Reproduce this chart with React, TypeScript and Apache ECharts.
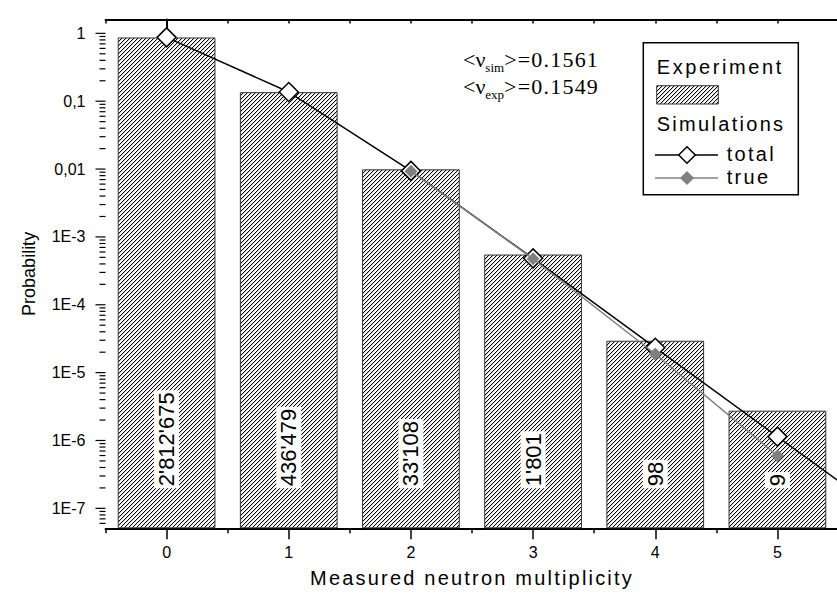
import React, { useEffect, useRef } from 'react';
import * as echarts from 'echarts';

// ---- data ----
const categories = ['0', '1', '2', '3', '4', '5'];
const eventCounts = [2812675, 436479, 33108, 1801, 98, 9];
const experimentProb = [0.87, 0.136, 0.0099, 5.5e-4, 2.95e-5, 2.75e-6];
const simTotalX = [0, 1, 2, 3, 4, 5, 6];
const simTotalProb = [0.873, 0.1365, 0.0094, 4.83e-4, 2.33e-5, 1.14e-6, 5.6e-8];
const simTrueX = [2, 3, 4, 5];
const simTrueProb = [0.0093, 4.75e-4, 1.88e-5, 5.96e-7];
const yTickLabels = ['1', '0,1', '0,01', '1E-3', '1E-4', '1E-5', '1E-6', '1E-7'];
const nuSim = '0.1561';
const nuExp = '0.1549';

const Y_MIN = 5.08e-8;
const Y_MAX = 1.6;
const SANS = '"Liberation Sans", Arial, sans-serif';
const SERIF = '"Liberation Serif", "Times New Roman", serif';

function fmtCount(n: number) {
  return String(n).replace(/\B(?=(\d{3})+(?!\d))/g, "'");
}

function textWidth(t: string, size: number, family: string) {
  const c = document.createElement('canvas').getContext('2d')!;
  c.font = `${size}px ${family}`;
  return c.measureText(t).width;
}

// "////" hatch tile
function makeHatch() {
  const c = document.createElement('canvas');
  c.width = 4;
  c.height = 4;
  const g = c.getContext('2d')!;
  g.fillStyle = '#fff';
  g.fillRect(0, 0, 4, 4);
  for (let i = 0; i < 4; i++) {
    g.fillStyle = '#000';
    g.fillRect(i, 3 - i, 1, 1);
    g.fillStyle = '#d0d0d0';
    g.fillRect((i + 1) % 4, 3 - i, 1, 1);
  }
  return c;
}

export default function App() {
  const ref = useRef<HTMLDivElement>(null);
  useEffect(() => {
    const chart = echarts.init(ref.current!, undefined, { renderer: 'svg' });
    const hatchTile = makeHatch();
    const hatchFill = { image: hatchTile, repeat: 'repeat' };

    // log-axis tick marks (decade majors + 2..9 minors)
    const yTicks: number[][] = [];
    for (let k = -8; k <= 0; k++) {
      for (let m = 1; m <= 9; m++) {
        const v = m * Math.pow(10, k);
        if (v >= Y_MIN && v <= Y_MAX) yTicks.push([-0.5, v, m === 1 ? 10 : 6]);
      }
    }

    // legend geometry
    const LX = 643.3, LY = 42.7, LW = 155, LH = 152;
    const sw = { x: 656.7, y: 85.7, w: 61.6, h: 18.3 };
    const legendFont = { fontSize: 20, fontFamily: SANS, fill: '#000' };
    const diamond = (cx: number, cy: number, r: number) => [[cx - r, cy], [cx, cy - r], [cx + r, cy], [cx, cy + r]];

    // annotation pieces
    const mainSize = 22, subSize = 13;
    const a1 = '<\u03BD';
    const w1 = textWidth(a1, mainSize, SERIF);
    const wSim = textWidth('sim', subSize, SERIF);
    const wExp = textWidth('exp', subSize, SERIF);
    const AX = 463;
    const annot = (y: number, sub: string, subW: number, val: string) => [
      { type: 'text', x: AX, y, style: { text: a1, fontSize: mainSize, fontFamily: SERIF, fill: '#000', verticalAlign: 'middle' } },
      { type: 'text', x: AX + w1, y: y + 8, style: { text: sub, fontSize: subSize, fontFamily: SERIF, fill: '#000', verticalAlign: 'middle' } },
      { type: 'text', x: AX + w1 + subW, y, style: { text: '>=' + val, fontSize: mainSize, fontFamily: SERIF, fill: '#000', verticalAlign: 'middle' } },
    ];

    const option: any = {
      animation: false,
      backgroundColor: '#fff',
      grid: { left: 105.5, right: -1.5, top: 19.5, bottom: 69.7, containLabel: false, outerBoundsMode: 'none' },
      xAxis: [
        {
          type: 'category',
          data: categories,
          position: 'bottom',
          boundaryGap: true,
          axisLine: { show: true, lineStyle: { color: '#000', width: 1.8 } },
          axisTick: { show: true, alignWithLabel: true, length: 11, lineStyle: { color: '#000', width: 1.5 }, interval: 0 },
          axisLabel: { show: true, fontSize: 16, fontFamily: SANS, color: '#000', margin: 16, interval: 0 },
          name: 'Measured neutron multiplicity',
          nameLocation: 'middle',
          nameGap: 40,
          nameTextStyle: { fontSize: 20, fontFamily: SANS, color: '#000' },
          splitLine: { show: false },
        },
        {
          type: 'category',
          data: categories,
          position: 'bottom',
          boundaryGap: true,
          axisLine: { show: false },
          axisTick: { show: true, alignWithLabel: false, length: 5, lineStyle: { color: '#000', width: 1.5 }, interval: 0 },
          axisLabel: { show: false, interval: 0 },
          splitLine: { show: false },
        },
        {
          type: 'value',
          position: 'top',
          min: -0.5,
          max: 5.5,
          interval: 0.5,
          axisLine: { show: true, lineStyle: { color: '#000', width: 1.8 } },
          axisTick: { show: true, inside: true, length: 4, lineStyle: { color: '#000', width: 1.5 } },
          axisLabel: { show: false },
          splitLine: { show: false },
        },
      ],
      yAxis: [
        {
          type: 'log',
          min: Y_MIN,
          max: Y_MAX,
          startValue: Y_MIN,
          axisLine: { show: true, lineStyle: { color: '#000', width: 2 } },
          axisTick: { show: false },
          splitLine: { show: false },
          minorTick: { show: false },
          axisLabel: {
            fontSize: 16,
            fontFamily: SANS,
            color: '#000',
            margin: 20,
            formatter: (v: number) => {
              const l = Math.log10(v);
              const e = Math.round(l);
              if (Math.abs(l - e) > 1e-6 || e > 0 || -e >= yTickLabels.length) return '';
              return yTickLabels[-e];
            },
          },
          name: 'Probability',
          nameLocation: 'middle',
          nameGap: 68,
          nameTextStyle: { fontSize: 18, fontFamily: SANS, color: '#000' },
        },
      ],
      series: [
        {
          type: 'bar',
          name: 'Experiment',
          xAxisIndex: 0,
          yAxisIndex: 0,
          data: experimentProb,
          barWidth: '80%',
          itemStyle: {
            color: hatchFill,
            borderColor: '#333',
            borderWidth: 1,
          },
          label: {
            show: true,
            position: 'insideBottom',
            distance: 40,
            rotate: 90,
            align: 'left',
            verticalAlign: 'middle',
            fontSize: 22,
            fontFamily: SANS,
            color: '#000',
            backgroundColor: '#fff',
            padding: [2, 2, 1, 2],
            formatter: (p: any) => fmtCount(eventCounts[p.dataIndex]),
          },
          silent: true,
          z: 1,
        },
        {
          type: 'custom',
          xAxisIndex: 2,
          yAxisIndex: 0,
          data: yTicks,
          encode: { x: 0, y: 1 },
          silent: true,
          clip: false,
          renderItem: (params: any, api: any) => {
            const p = api.coord([api.value(0), api.value(1)]);
            const len = api.value(2);
            return {
              type: 'line',
              shape: { x1: p[0] - len, y1: p[1], x2: p[0], y2: p[1] },
              style: { stroke: '#000', lineWidth: 1.2 },
            };
          },
          z: 5,
        },
        {
          type: 'line',
          name: 'total',
          xAxisIndex: 2,
          yAxisIndex: 0,
          data: simTotalX.map((x, i) => [x, simTotalProb[i]]),
          symbol: 'diamond',
          symbolSize: 19,
          showSymbol: true,
          clip: true,
          lineStyle: { color: '#000', width: 1.5 },
          itemStyle: { color: '#fff', borderColor: '#000', borderWidth: 1.5 },
          silent: true,
          z: 3,
        },
        {
          type: 'line',
          name: 'true',
          xAxisIndex: 2,
          yAxisIndex: 0,
          data: simTrueX.map((x, i) => [x, simTrueProb[i]]),
          symbol: 'diamond',
          symbolSize: 13,
          showSymbol: true,
          clip: true,
          lineStyle: { color: '#808080', width: 1.5 },
          itemStyle: { color: '#808080', borderWidth: 0 },
          silent: true,
          z: 4,
        },
      ],
      graphic: [
        ...annot(59, 'sim', wSim, nuSim),
        ...annot(86, 'exp', wExp, nuExp),
        { type: 'rect', shape: { x: LX, y: LY, width: LW, height: LH }, style: { fill: '#fff', stroke: '#000', lineWidth: 1.5 }, z: 10 },
        { type: 'text', x: 656.7, y: 66.5, style: { text: 'Experiment', ...legendFont, verticalAlign: 'middle' }, z: 11 },
        { type: 'rect', shape: { x: sw.x, y: sw.y, width: sw.w, height: sw.h }, style: { fill: hatchFill, stroke: '#333', lineWidth: 1 }, z: 11 },
        { type: 'text', x: 656.7, y: 123.5, style: { text: 'Simulations', ...legendFont, verticalAlign: 'middle' }, z: 11 },
        { type: 'line', shape: { x1: 655, y1: 155, x2: 718, y2: 155 }, style: { stroke: '#000', lineWidth: 1.5 }, z: 11 },
        { type: 'polygon', shape: { points: diamond(687, 155, 8.3) }, style: { fill: '#fff', stroke: '#000', lineWidth: 1.5 }, z: 12 },
        { type: 'text', x: 726.7, y: 153.5, style: { text: 'total', ...legendFont, verticalAlign: 'middle' }, z: 11 },
        { type: 'line', shape: { x1: 655, y1: 178, x2: 718, y2: 178 }, style: { stroke: '#808080', lineWidth: 1.5 }, z: 11 },
        { type: 'polygon', shape: { points: diamond(687, 178, 7) }, style: { fill: '#808080' }, z: 12 },
        { type: 'text', x: 726.7, y: 177, style: { text: 'true', ...legendFont, verticalAlign: 'middle' }, z: 11 },
      ],
    };
    chart.setOption(option);

    // Origin-style wide tracking on legend, axis title and annotation values
    const spaced: Record<string, string> = {
      Experiment: '2.6',
      Simulations: '2.3',
      total: '2.3',
      true: '2.3',
      'Measured neutron multiplicity': '2.2',
      ['>=' + nuSim]: '1.2',
      ['>=' + nuExp]: '1.2',
    };
    const applySpacing = () => {
      ref.current?.querySelectorAll('text').forEach((el) => {
        const t = (el.textContent || '').trim();
        if (spaced[t]) el.setAttribute('letter-spacing', spaced[t]);
      });
    };
    applySpacing();
    chart.on('finished', applySpacing);

    return () => chart.dispose();
  }, []);

  return (
    <div
      ref={ref}
      style={{ position: 'absolute', left: 0, top: 0, width: 837, height: 598, background: '#fff' }}
    />
  );
}
